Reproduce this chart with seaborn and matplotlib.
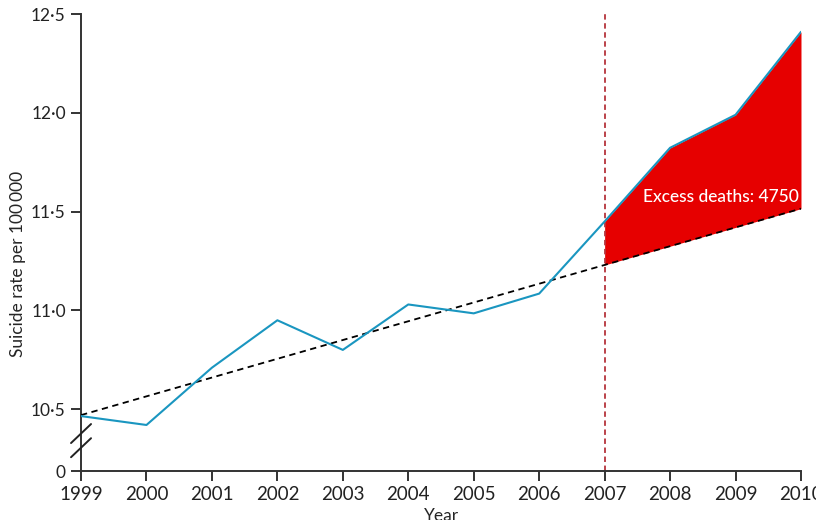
import numpy as np
import pandas as pd
import seaborn as sns
import matplotlib.pyplot as plt

# data
years = [1999, 2000, 2001, 2002, 2003, 2004, 2005, 2006, 2007, 2008, 2009, 2010]
rate = [10.465, 10.42, 10.71, 10.95, 10.80, 11.03, 10.985, 11.085, 11.45, 11.823, 11.99, 12.41]
trend = [10.47, 10.565, 10.66, 10.755, 10.85, 10.945, 11.04, 11.135, 11.23, 11.325, 11.42, 11.515]
ytick_vals = [0, 10.5, 11.0, 11.5, 12.0, 12.5]
ytick_labels = ['0', '10·5', '11·0', '11·5', '12·0', '12·5']
excess_label = 'Excess deaths: 4750'

# the axis is broken: 0 is drawn a little below 10.5
zero_pos = 10.187

def ypos(v):
    return zero_pos if v == 0 else v

sns.set_style('ticks')
plt.rcParams['font.family'] = ['Lato', 'DejaVu Sans']

df = pd.DataFrame({'year': years, 'rate': rate, 'trend': trend})
post = df[df['year'] >= 2007]

fig = plt.figure(figsize=(8.16, 5.2), dpi=100)
ax = fig.add_axes([0.0993, 0.0942, 0.8823, 0.8788])

ax.fill_between(post['year'], post['trend'], post['rate'], color='#e60000', linewidth=0, zorder=1)
sns.lineplot(data=df, x='year', y='trend', ax=ax, color='black', linewidth=1.3,
             linestyle=(0, (3.5, 2.5)), zorder=3)
sns.lineplot(data=df, x='year', y='rate', ax=ax, color='#1a96c0', linewidth=1.5, zorder=4)
ax.axvline(2007, color='#b5343c', linewidth=1.3, linestyle=(0, (3, 2)), zorder=2)

ax.text(2007.58, 11.575, excess_label, color='white', fontsize=12.5, fontweight='medium',
        va='center', ha='left', zorder=5)

ax.set_xlim(1999, 2010)
ax.set_ylim(zero_pos, 12.5)
ax.set_xticks(years)
ax.set_xticklabels([str(y) for y in years], fontsize=13.5)
ax.set_yticks([ypos(v) for v in ytick_vals])
ax.set_yticklabels(ytick_labels, fontsize=12.5)

ax.set_xlabel('Year', fontsize=12.5)
ax.set_ylabel('Suicide rate per 100\u2009000', fontsize=12.5)
ax.xaxis.set_label_coords(0.5, -0.08)
ax.yaxis.set_label_coords(-0.077, 0.453)

sns.despine(ax=ax)
for s in ['left', 'bottom']:
    ax.spines[s].set_linewidth(1.4)
    ax.spines[s].set_color('#333333')
ax.tick_params(axis='both', length=7, width=1.4, color='#333333', labelcolor='#222222', pad=4)

# break marks on the y axis
for yb in [0.051, 0.082]:
    ax.plot([-0.0139, 0.0139], [yb - 0.0208, yb + 0.0208], transform=ax.transAxes,
            color='#222222', linewidth=1.4, clip_on=False, zorder=6)

fig.savefig('out.png', dpi=100)
